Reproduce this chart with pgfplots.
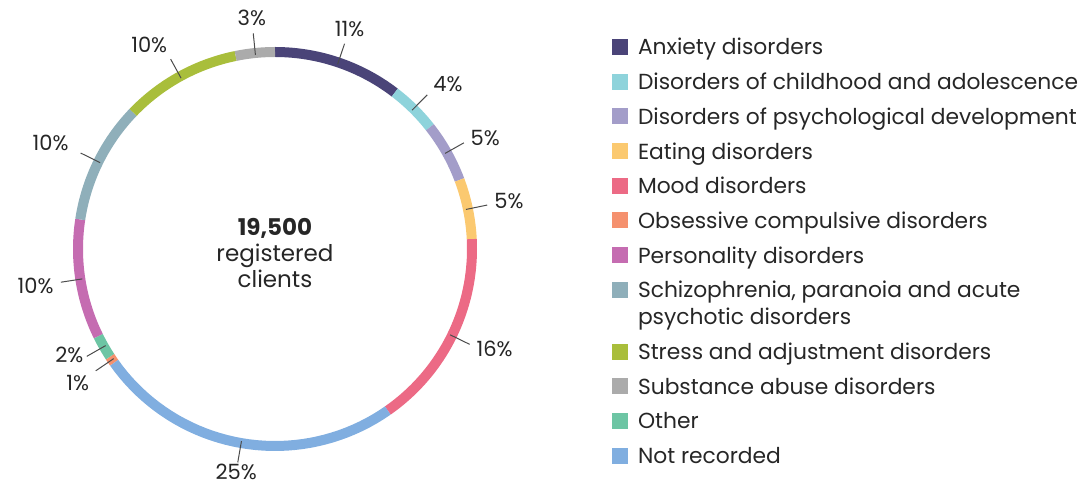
\documentclass[border=0pt]{standalone}
\usepackage{fontspec}
\setmainfont{Poppins}
\usepackage{pgfplots}
\pgfplotsset{compat=1.18}

\definecolor{cAnx}{HTML}{4A4478}
\definecolor{cChild}{HTML}{8ED3DB}
\definecolor{cPsy}{HTML}{A39DC9}
\definecolor{cEat}{HTML}{FBC970}
\definecolor{cMood}{HTML}{EC6A85}
\definecolor{cOcd}{HTML}{F5916E}
\definecolor{cPers}{HTML}{C56CB1}
\definecolor{cSchiz}{HTML}{8FAFBA}
\definecolor{cStress}{HTML}{A9BE3B}
\definecolor{cSubst}{HTML}{ABABAB}
\definecolor{cOther}{HTML}{6DC5A4}
\definecolor{cNotrec}{HTML}{80AEE0}
\definecolor{txt}{HTML}{262626}

\tikzset{pct/.style={font=\fontsize{10.5bp}{12bp}\selectfont, text=txt, inner sep=1.5bp}}

% strut for legend rows
\newcommand\ls{\rule[-3bp]{0pt}{12bp}}

% ring segment: colour, start share (%), end share (%), legend text
\newcommand\seg[4]{%
  \addplot[color=#1, line width=5bp, domain={90-3.6*#2}:{90-3.6*#3}, samples=41] ({x},{1});
  \addlegendentry{#4\ls}%
}
% leader line and percentage label: start share, end share, label, label radius, anchor (empty = automatic)
\newcommand\lab[5]{%
  \pgfmathsetmacro\pctM{90-1.8*(#1+#2)}%
  \def\pcttest{#5}%
  \ifx\pcttest\empty
    \pgfmathsetmacro\pctA{mod(\pctM+540,360)}%
  \else
    \def\pctA{#5}%
  \fi
  \pgfmathsetmacro\pctX{#4*cos(\pctM)}%
  \pgfmathsetmacro\pctY{#4*sin(\pctM)}%
  \edef\pcttmp{\noexpand\addplot[forget plot, draw=black!70, line width=0.5bp] coordinates {(\pctM,0.99) (\pctM,1.10)};%
    \noexpand\node[pct, anchor=\pctA] at (axis cs:\pctX,\pctY) {\unexpanded{#3}};}%
  \pcttmp
}

\begin{document}
\begin{tikzpicture}
\path[use as bounding box] (0,0) rectangle (544bp,242bp);
\begin{axis}[
  at={(137.5bp,117.5bp)}, anchor=origin,
  x=98.5bp, y=98.5bp,
  xmin=-1.3959, xmax=4.1269, ymin=-1.1929, ymax=1.2640,
  hide axis, clip=false,
  data cs=polar,
  legend cell align=left,
  legend style={at={(0.5625,0.9236)}, anchor=north west, draw=none, fill=none,
    inner sep=0pt, outer sep=0pt, row sep=5.35bp, column sep=5bp,
    nodes={inner sep=0pt, text depth=}, cells={anchor=base west},
    font=\fontsize{10.9bp}{13bp}\selectfont, text=txt},
  legend image code/.code={\fill[#1, draw=none] (0bp,0bp) rectangle (8bp,8bp);},
]
% segments in legend order; positions (cumulative %) follow the ring clockwise from the top
\seg{cAnx}{0}{10.4}{Anxiety disorders}
\seg{cChild}{10.4}{14.4}{Disorders of childhood and adolescence}
\seg{cPsy}{14.4}{19.3}{Disorders of psychological development}
\seg{cEat}{19.3}{24.2}{Eating disorders}
\seg{cMood}{24.2}{40.3}{Mood disorders}
\seg{cOcd}{65.2}{65.8}{Obsessive compulsive disorders}
\seg{cPers}{67.7}{77.4}{Personality disorders}
\addplot[color=cSchiz, line width=5bp, domain={90-3.6*77.4}:{90-3.6*87.2}, samples=41] ({x},{1});
\addlegendentry{\vtop{\offinterlineskip\hbox{Schizophrenia, paranoia and acute\ls}\vskip1.5bp\hbox{psychotic disorders\ls}}}
\seg{cStress}{87.2}{96.8}{Stress and adjustment disorders}
\seg{cSubst}{96.8}{100}{Substance abuse disorders}
\seg{cOther}{65.8}{67.7}{Other}
\seg{cNotrec}{40.3}{65.2}{Not recorded}

\lab{0}{10.4}{11\%}{1.12}{}
\lab{10.4}{14.4}{4\%}{1.12}{205}
\lab{14.4}{19.3}{5\%}{1.12}{190}
\lab{19.3}{24.2}{5\%}{1.12}{}
\lab{24.2}{40.3}{16\%}{1.12}{172}
\lab{40.3}{65.2}{25\%}{1.09}{}
\lab{65.2}{65.8}{1\%}{1.12}{}
\lab{65.8}{67.7}{2\%}{1.10}{355}
\lab{67.7}{77.4}{10\%}{1.12}{}
\lab{77.4}{87.2}{10\%}{1.15}{345}
\lab{87.2}{96.8}{10\%}{1.12}{330}
\lab{96.8}{100}{3\%}{1.12}{}

\node[font=\fontsize{11.5bp}{13bp}\selectfont, align=center, text=txt] at (axis cs:0,-0.02)
  {\textbf{19,500}\\registered\\clients};
\end{axis}
\end{tikzpicture}
\end{document}
